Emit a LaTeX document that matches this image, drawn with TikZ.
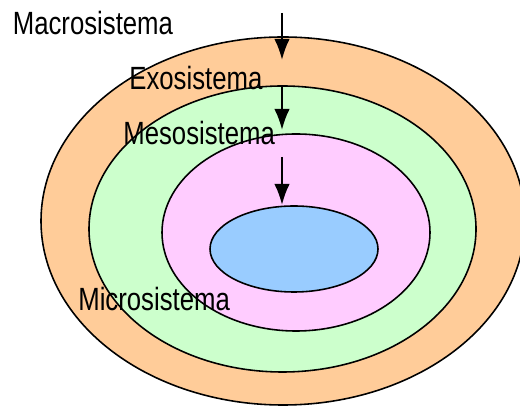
\documentclass[tikz,border=0pt]{standalone}
\usepackage{fontspec}
\setmainfont{Liberation Sans}[FakeStretch=0.8]
\usetikzlibrary{arrows.meta,shapes.geometric}

\begin{document}
\begin{tikzpicture}[>={Latex[length=4.2mm,width=3.1mm]},
 ring/.style={ellipse,draw=black,line width=0.9pt,inner sep=0pt},
 sysname/.style={anchor=base west,inner sep=0pt,font=\fontsize{18.3}{20}\selectfont}]
\definecolor{peach}{RGB}{255,204,153}
\definecolor{mint}{RGB}{204,255,204}
\definecolor{lilac}{RGB}{255,204,255}
\definecolor{sky}{RGB}{153,204,255}
\useasboundingbox (0,0) rectangle (10.4,8.12);
% nested systems, outermost first
\node[ring,fill=peach,minimum width=9.68cm,minimum height=7.36cm] (macro) at (5.66,3.70) {};
\node[ring,fill=mint,minimum width=7.74cm,minimum height=5.72cm] (exo) at (5.65,3.54) {};
\node[ring,fill=lilac,minimum width=5.36cm,minimum height=3.94cm] (meso) at (5.92,3.47) {};
\node[ring,fill=sky,minimum width=3.36cm,minimum height=1.72cm] (micro) at (5.88,3.14) {};
\node[sysname] (macrolabel) at (0.25,7.42) {Macrosistema};
\node[sysname] (exolabel) at (2.58,6.32) {Exosistema};
\node[sysname] (mesolabel) at (2.46,5.22) {Mesosistema};
\node[sysname] (microlabel) at (1.56,1.90) {Microsistema};
\coordinate (a1s) at (5.64,7.86);
\coordinate (a1e) at (5.64,6.92);
\coordinate (a2s) at (5.64,6.40);
\coordinate (a2e) at (5.64,5.52);
\coordinate (a3s) at (5.64,4.98);
\coordinate (a3e) at (5.64,4.02);
\foreach \s/\e in {a1s/a1e,a2s/a2e,a3s/a3e}
 \draw[->,line width=1.3pt] (\s)--(\e);
\end{tikzpicture}
\end{document}
